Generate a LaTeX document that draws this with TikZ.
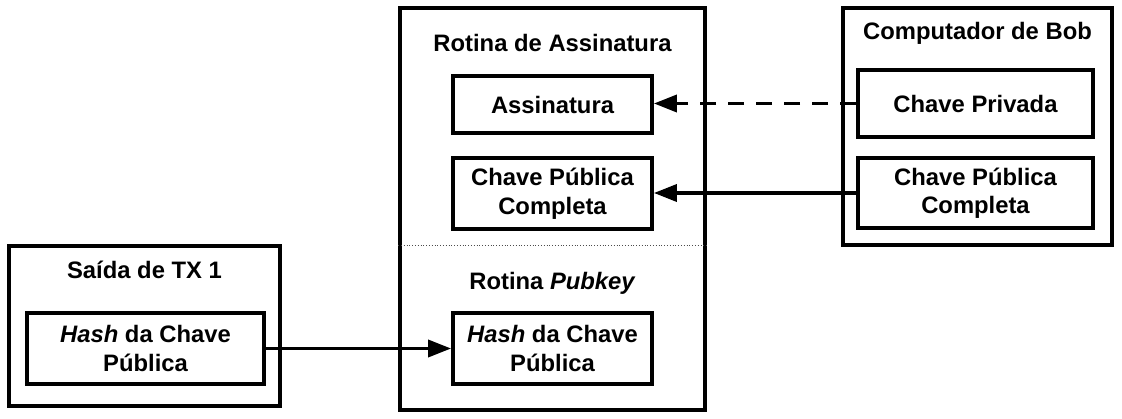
\documentclass[tikz,border=0pt]{standalone}
\usepackage{fontspec}
\setmainfont{Liberation Sans}
\usetikzlibrary{arrows.meta}
\begin{document}
\begin{tikzpicture}[x=1pt,y=-1pt,
  every node/.style={font=\fontsize{23.8}{28.5}\selectfont\bfseries, align=center, inner sep=0pt},
  box/.style={draw, line width=3.8pt, minimum width=#1},
  outer/.style={draw, line width=3.8pt},
  arr/.style={line width=3.6pt, -{Triangle[length=23pt,width=17pt]}},
  dasharr/.style={arr, dash pattern=on 16pt off 12pt},
  title/.style={}]
\useasboundingbox (0,0) rectangle (1122,419);
% outer boxes
\node[outer, minimum width=271pt, minimum height=160pt] (lout) at (144.5,326) {};
\node[outer, minimum width=305pt, minimum height=402pt] (mout) at (552.5,209) {};
\node[outer, minimum width=269pt, minimum height=237pt] (rout) at (977.5,126.5) {};
% titles
\node[title] (ltitle) at (144.5,270) {Saída de TX 1};
\node[title] (mtitle) at (552.5,43) {Rotina de Assinatura};
\node[title] (ptitle) at (552.5,283) {Rotina \textit{Pubkey}};
\node[title] (rtitle) at (977.5,33) {Computador de Bob};
% inner boxes
\node[box=237pt, minimum height=71pt] (lin) at (145.5,348.5) {\textit{Hash} da Chave\\Pública};
\node[box=199pt, minimum height=57pt] (asg) at (552.5,104.5) {Assinatura};
\node[box=199pt, minimum height=71pt] (cpcm) at (552.5,193.5) {Chave Pública\\Completa};
\node[box=199pt, minimum height=71pt] (hash) at (552.5,348.5) {\textit{Hash} da Chave\\Pública};
\node[box=235pt, minimum height=67pt] (cprv) at (975.5,103.5) {Chave Privada};
\node[box=235pt, minimum height=70pt] (cpcr) at (975.5,193) {Chave Pública\\Completa};
% divider
\draw[dotted, line width=0.8pt, black!70] (mout.west |- 0,245) -- (mout.east |- 0,245);
% connectors
\draw[arr] (lin.east) -- (hash.west);
\draw[dasharr] (cprv.west) -- (asg.east |- cprv.west);
\draw[arr] (cpcr.west) -- (cpcm.east |- cpcr.west);
\end{tikzpicture}
\end{document}
